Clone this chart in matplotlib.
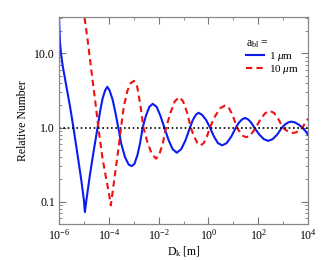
import numpy as np
import matplotlib
matplotlib.use("Agg")
import matplotlib.pyplot as plt
from matplotlib.ticker import FixedLocator, NullFormatter, LogLocator

plt.rcParams['font.family'] = ['Liberation Serif', 'DejaVu Serif']
plt.rcParams['mathtext.fontset'] = 'custom'
plt.rcParams['mathtext.rm'] = 'Liberation Serif'
plt.rcParams['mathtext.it'] = 'Liberation Serif:italic'

# log10(D_k [m]) and log10(relative number)
blue_logx = [-6.02, -5.99, -5.96, -5.92, -5.85, -5.70, -5.55, -5.42, -5.25, -5.10, -5.00, -4.96,
             -4.90, -4.75, -4.60, -4.45, -4.35, -4.25, -4.15, -4.06,
             -3.97, -3.85, -3.74, -3.62, -3.50, -3.35, -3.20, -3.08,
             -2.97, -2.85, -2.75, -2.64, -2.51, -2.37, -2.24,
             -2.08, -1.93, -1.77, -1.60, -1.44, -1.27,
             -1.09, -0.92, -0.74, -0.63, -0.51, -0.40,
             -0.25, -0.09, 0.06, 0.22, 0.38, 0.55,
             0.73, 0.92, 1.10, 1.22, 1.35, 1.47,
             1.59, 1.72, 1.84, 2.03, 2.22, 2.40,
             2.58, 2.77, 2.95, 3.07, 3.20, 3.32,
             3.47, 3.62, 3.77, 3.90, 4.00]
blue_logy = [1.70, 1.40, 1.15, 1.00, 0.83, 0.55, 0.27, 0.00, -0.38, -0.72, -0.98, -1.14,
             -0.98, -0.62, -0.30, 0.00, 0.22, 0.39, 0.50, 0.55,
             0.50, 0.38, 0.21, 0.00, -0.22, -0.40, -0.50, -0.52,
             -0.49, -0.37, -0.22, 0.00, 0.16, 0.28, 0.32,
             0.28, 0.16, 0.00, -0.17, -0.29, -0.34,
             -0.29, -0.17, 0.00, 0.10, 0.17, 0.20,
             0.17, 0.10, 0.00, -0.12, -0.21, -0.24,
             -0.21, -0.12, 0.00, 0.065, 0.11, 0.13,
             0.11, 0.065, 0.00, -0.09, -0.156, -0.18,
             -0.156, -0.09, 0.00, 0.04, 0.069, 0.08,
             0.069, 0.04, 0.00, -0.05, -0.10]

red_logx = [-5.02, -4.98, -4.85, -4.70, -4.55, -4.42, -4.25, -4.10, -3.98, -3.92,
            -3.85, -3.72, -3.62, -3.51, -3.40, -3.25, -3.12, -2.99,
            -2.86, -2.74, -2.61, -2.44, -2.27, -2.10,
            -1.97, -1.83, -1.70, -1.52, -1.35, -1.17,
            -1.02, -0.86, -0.71, -0.58, -0.44, -0.31,
            -0.19, -0.06, 0.06, 0.26, 0.47, 0.67,
            0.83, 0.99, 1.14, 1.27, 1.39, 1.52,
            1.65, 1.77, 1.90, 2.09, 2.28, 2.47,
            2.64, 2.81, 2.98, 3.12, 3.27, 3.41,
            3.53, 3.65, 3.77, 3.88, 4.00]
red_logy = [1.62, 1.50, 1.18, 0.77, 0.37, 0.00, -0.42, -0.70, -0.92, -1.05,
            -0.88, -0.55, -0.30, 0.00, 0.28, 0.50, 0.60, 0.63,
            0.55, 0.32, 0.00, -0.21, -0.36, -0.42,
            -0.36, -0.21, 0.00, 0.205, 0.355, 0.41,
            0.355, 0.205, 0.00, -0.12, -0.21, -0.24,
            -0.21, -0.12, 0.00, 0.15, 0.26, 0.30,
            0.26, 0.15, 0.00, -0.065, -0.113, -0.13,
            -0.113, -0.065, 0.00, 0.113, 0.195, 0.225,
            0.195, 0.113, 0.00, -0.037, -0.063, -0.073,
            -0.063, -0.037, 0.00, 0.06, 0.12]

series_labels = [r"1 $\mu$m", r"10 $\mu$m"]
legend_title = r"a$_{\rm bl}$ ="
xlabel = r"D$_{\rm k}$ [m]"
ylabel = "Relative Number"
x_ticks = [1e-6, 1e-4, 1e-2, 1e0, 1e2, 1e4]
x_ticklabels = [r"10$^{-6}$", r"10$^{-4}$", r"10$^{-2}$", r"10$^{0}$", r"10$^{2}$", r"10$^{4}$"]
y_ticks = [0.1, 1.0, 10.0]
y_ticklabels = ["0.1", "1.0", "10.0"]

fig = plt.figure(figsize=(3.25, 2.6), dpi=100)
ax = fig.add_axes([0.1815, 0.1385, 0.7665, 0.7961])

ax.plot(10 ** np.array(blue_logx), 10 ** np.array(blue_logy), color='#0a1cf0', lw=1.5,
        label=series_labels[0])
ax.plot(10 ** np.array(red_logx), 10 ** np.array(red_logy), color='#f01010', lw=1.5,
        dashes=(3, 2), label=series_labels[1])
ax.axhline(1.0, color='black', lw=1.2, ls=(0, (1, 1.6)))

ax.set_xscale('log')
ax.set_yscale('log')
ax.set_xlim(1e-6, 1e4)
ax.set_ylim(0.05, 31)

ax.xaxis.set_major_locator(FixedLocator(x_ticks))
ax.set_xticklabels(x_ticklabels)
ax.xaxis.set_minor_locator(FixedLocator([1e-5, 1e-3, 1e-1, 1e1, 1e3]))
ax.xaxis.set_minor_formatter(NullFormatter())
ax.yaxis.set_major_locator(FixedLocator(y_ticks))
ax.set_yticklabels(y_ticklabels)
ax.yaxis.set_minor_locator(LogLocator(base=10, subs=np.arange(2, 10)))
ax.yaxis.set_minor_formatter(NullFormatter())

for s in ax.spines.values():
    s.set_color('#888888')
    s.set_linewidth(0.9)
ax.tick_params(which='both', direction='in', top=True, right=True, color='#777777',
               labelsize=8.5, pad=3)
ax.tick_params(which='major', length=5)
ax.tick_params(which='minor', length=2.5)

ax.set_xlabel(xlabel, fontsize=8.5, labelpad=1)
ax.set_ylabel(ylabel, fontsize=8.5, labelpad=4)

leg = ax.legend(loc='upper left', bbox_to_anchor=(0.73, 0.93), frameon=False,
                title=legend_title, fontsize=8, title_fontsize=8.5,
                handlelength=1.6, handletextpad=0.45, labelspacing=0.0, borderpad=0)
leg._legend_box.align = 'left'

fig.savefig('out.png', dpi=100)
